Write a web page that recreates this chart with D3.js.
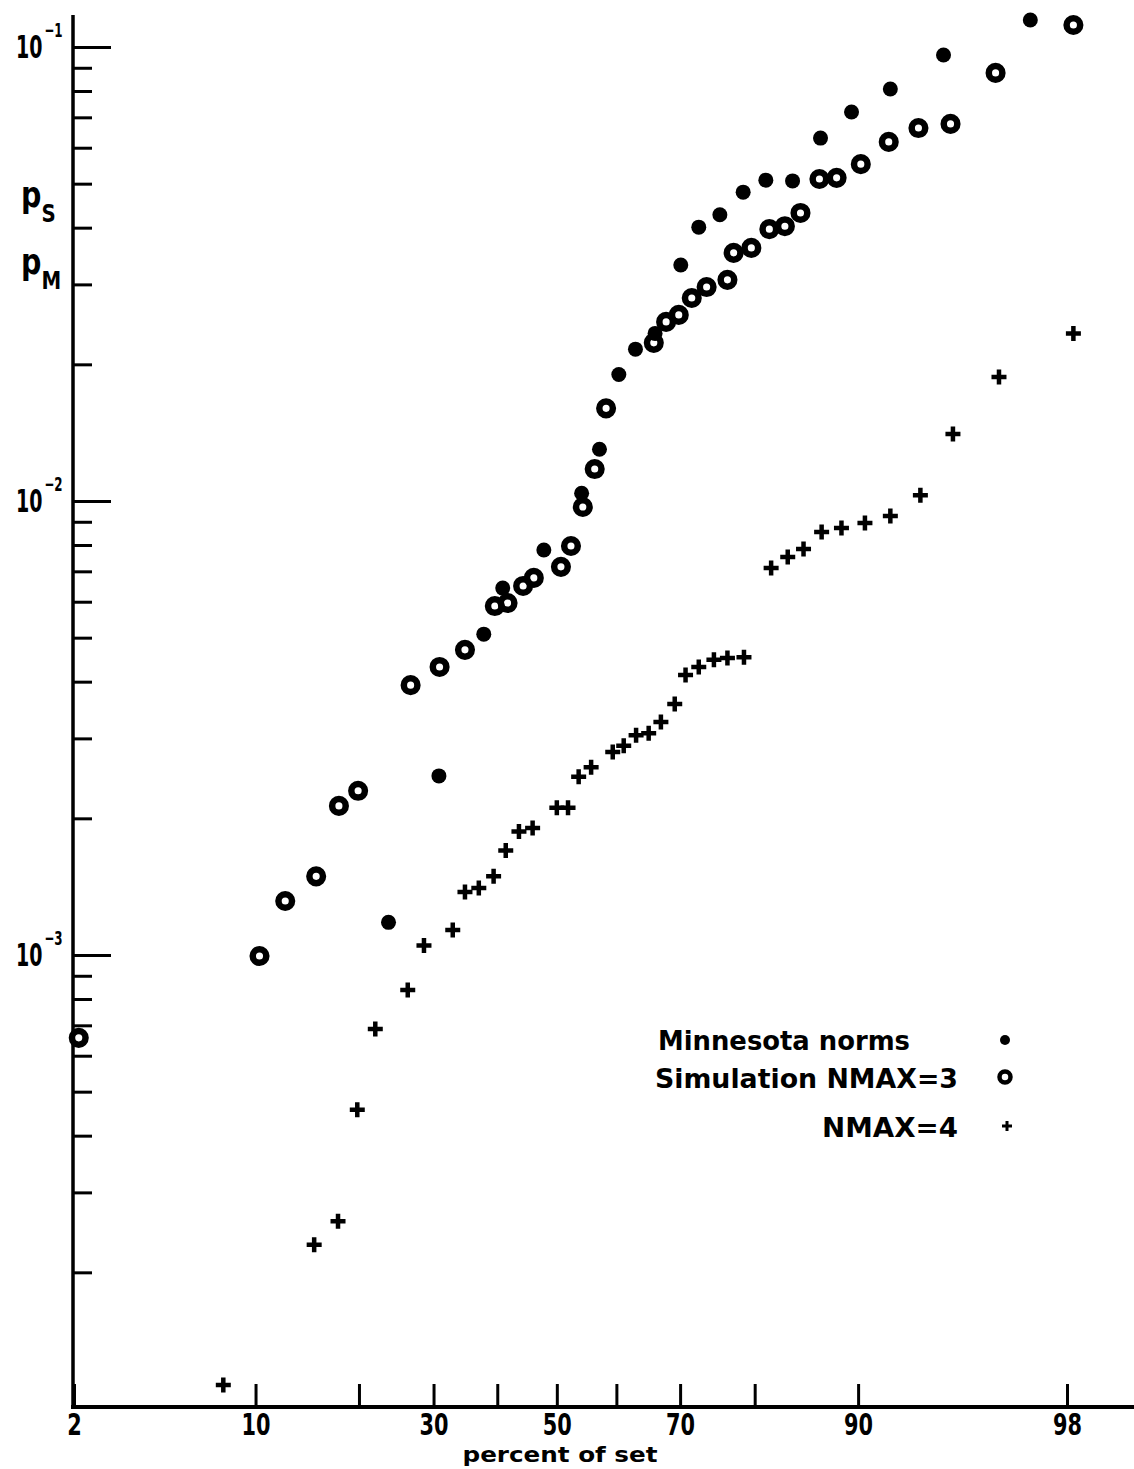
<!DOCTYPE html>
<html>
<head>
<meta charset="utf-8">
<script src="https://cdn.jsdelivr.net/npm/d3@7"></script>
<style>
	body { margin: 0; background: #fff; }
	svg { display: block; }
	.lbl {
		font-family: "Liberation Sans Narrow", "DejaVu Sans Condensed", "Liberation Sans", sans-serif;
		font-weight: bold;
		fill: #000;
	}
	.axis .tick line { stroke: #000; stroke-width: 3; }
	.axis path.domain { display: none; }
</style>
</head>
<body>
<div id="chart"></div>
<script>

// values: percent of set (x) and p (y, log)
var minnesotaPct = [23.7, 30.8, 37.8, 40.9, 47.8, 54.2, 57.2, 60.4, 63.1, 66.2, 70.1, 72.7, 75.6, 78.6, 81.3, 84.2, 86.9, 89.5, 92.2, 95.0, 97.8];
var minnesotaP = [1.18e-3, 2.48e-3, 5.09e-3, 6.43e-3, 7.80e-3, 1.04e-2, 1.30e-2, 1.90e-2, 2.16e-2, 2.34e-2, 3.31e-2, 4.01e-2, 4.27e-2, 4.79e-2, 5.09e-2, 5.07e-2, 6.30e-2, 7.19e-2, 8.08e-2, 9.60e-2, 0.1147];

var nmax3Pct = [2.1, 10.3, 12.4, 15.3, 17.7, 19.9, 26.7, 30.9, 34.8, 39.6, 41.7, 44.3, 46.1, 50.7, 52.4, 54.4, 56.4, 58.3, 66.0, 67.9, 69.8, 71.7, 73.8, 76.6, 77.4, 79.6, 81.7, 83.4, 85.0, 86.8, 88.3, 90.2, 92.1, 93.8, 95.3, 96.9, 98.6];
var nmax3P = [6.57e-4, 9.95e-4, 1.315e-3, 1.49e-3, 2.13e-3, 2.30e-3, 3.93e-3, 4.31e-3, 4.70e-3, 5.87e-3, 5.96e-3, 6.50e-3, 6.77e-3, 7.16e-3, 7.96e-3, 9.70e-3, 1.176e-2, 1.60e-2, 2.23e-2, 2.48e-2, 2.57e-2, 2.80e-2, 2.96e-2, 3.07e-2, 3.52e-2, 3.61e-2, 3.97e-2, 4.03e-2, 4.31e-2, 5.12e-2, 5.15e-2, 5.52e-2, 6.18e-2, 6.63e-2, 6.77e-2, 8.77e-2, 0.1118];

var nmax4Pct = [7.8, 15.1, 17.6, 19.8, 22.0, 26.3, 28.6, 32.9, 34.8, 37.0, 39.4, 41.4, 43.6, 45.9, 50.0, 51.9, 53.7, 55.8, 59.4, 61.2, 63.2, 65.2, 67.1, 69.2, 70.8, 72.7, 74.8, 76.6, 78.7, 81.9, 83.7, 85.3, 87.0, 88.7, 90.5, 92.2, 93.9, 95.4, 97.0, 98.6];
var nmax4P = [1.13e-4, 2.30e-4, 2.59e-4, 4.56e-4, 6.87e-4, 8.37e-4, 1.05e-3, 1.135e-3, 1.377e-3, 1.405e-3, 1.49e-3, 1.70e-3, 1.87e-3, 1.905e-3, 2.11e-3, 2.11e-3, 2.47e-3, 2.59e-3, 2.80e-3, 2.89e-3, 3.05e-3, 3.08e-3, 3.26e-3, 3.57e-3, 4.14e-3, 4.31e-3, 4.47e-3, 4.51e-3, 4.53e-3, 7.12e-3, 7.53e-3, 7.84e-3, 8.54e-3, 8.72e-3, 8.94e-3, 9.27e-3, 1.03e-2, 1.405e-2, 1.875e-2, 2.34e-2];

// the "98" mark in the figure sits at ~98.5 on the probability scale
var xTickPct = [2, 10, 20, 30, 40, 50, 60, 70, 80, 90, 98.5];
var xTickLabels = ["2", "10", "", "30", "", "50", "", "70", "", "90", "98"];
var yDecades = [1e-1, 1e-2, 1e-3];
var yDecadeExp = ["\u22121", "\u22122", "\u22123"];
var legendLabels = ["Minnesota norms", "Simulation NMAX=3", "NMAX=4"];

var W = 1134, H = 1469;

// inverse normal cdf (Acklam), for the probability-paper x axis
function probit(p){
	var a = [-3.969683028665376e+01, 2.209460984245205e+02, -2.759285104469687e+02, 1.383577518672690e+02, -3.066479806614716e+01, 2.506628277459239e+00];
	var b = [-5.447609879822406e+01, 1.615858368580409e+02, -1.556989798598866e+02, 6.680131188771972e+01, -1.328068155288572e+01];
	var c = [-7.784894002430293e-03, -3.223964580411365e-01, -2.400758277161838e+00, -2.549732539343734e+00, 4.374664141464968e+00, 2.938163982698783e+00];
	var d = [7.784695709041462e-03, 3.224671290700398e-01, 2.445134137142996e+00, 3.754408661907416e+00];
	var q, r;
	if (p < 0.02425){
		q = Math.sqrt(-2 * Math.log(p));
		return (((((c[0]*q+c[1])*q+c[2])*q+c[3])*q+c[4])*q+c[5]) / ((((d[0]*q+d[1])*q+d[2])*q+d[3])*q+1);
	}
	if (p > 1 - 0.02425){
		q = Math.sqrt(-2 * Math.log(1 - p));
		return -(((((c[0]*q+c[1])*q+c[2])*q+c[3])*q+c[4])*q+c[5]) / ((((d[0]*q+d[1])*q+d[2])*q+d[3])*q+1);
	}
	q = p - 0.5; r = q * q;
	return (((((a[0]*r+a[1])*r+a[2])*r+a[3])*r+a[4])*r+a[5])*q / (((((b[0]*r+b[1])*r+b[2])*r+b[3])*r+b[4])*r+1);
}

var xs = d3.scaleLinear().domain([probit(0.02), probit(0.985)]).range([74, 1067]);
var ys = d3.scaleLog().domain([1e-4, 1e-1]).range([1409, 47]);
function X(pct){ return xs(probit(pct / 100)); }

var svg = d3.select('#chart').append('svg').attr('width', W).attr('height', H);
svg.append('rect').attr('width', W).attr('height', H).attr('fill', '#fff');

// y axis: decade ticks long, the rest short
var minorY = [];
[1e-4, 1e-3, 1e-2].forEach(function(dec){
	for (var k = 2; k <= 9; k++) minorY.push(k * dec);
});
svg.append('g').attr('class', 'axis').attr('transform', 'translate(73,0)')
	.call(d3.axisRight(ys).tickValues(minorY).tickSize(19).tickSizeOuter(0).tickFormat(''));
svg.append('g').attr('class', 'axis').attr('transform', 'translate(73,0)')
	.call(d3.axisRight(ys).tickValues(yDecades).tickSize(38).tickSizeOuter(0).tickFormat(''));

svg.append('line').attr('x1', 73).attr('x2', 73).attr('y1', 15).attr('y2', ys(1e-4))
	.attr('stroke', '#000').attr('stroke-width', 3.5);

// decade labels 10^-k; squeezed sideways for the condensed look of the original
yDecades.forEach(function(v, i){
	var t = svg.append('text').attr('class', 'lbl')
		.attr('transform', 'translate(16,' + (ys(v) + 11) + ') scale(0.66,1)')
		.style('font-size', '32px');
	t.append('tspan').text('10');
	t.append('tspan').attr('dx', 3).attr('dy', -21).style('font-size', '20px').text(yDecadeExp[i]);
});

// p_S and p_M marks on the axis
function pLabel(y, sub){
	var t = svg.append('text').attr('class', 'lbl')
		.attr('transform', 'translate(21,' + y + ') scale(0.88,1)')
		.style('font-size', '36px');
	t.append('tspan').text('p');
	t.append('tspan').attr('dy', 15).style('font-size', '25px').text(sub);
}
pLabel(207, 'S');
pLabel(274, 'M');

// x axis (probability scale)
var xAxis = d3.axisBottom(xs)
	.tickValues(xTickPct.map(function(p){ return probit(p / 100); }))
	.tickSize(-23).tickSizeOuter(0).tickPadding(7)
	.tickFormat(function(d, i){ return xTickLabels[i]; });
var gx = svg.append('g').attr('class', 'axis').attr('transform', 'translate(0,1407)').call(xAxis);
gx.selectAll('.tick text').attr('class', 'lbl').style('font-size', '30px')
	.attr('textLength', function(d, i){ return 14.5 * xTickLabels[i].length; })
	.attr('lengthAdjust', 'spacingAndGlyphs');

svg.append('line').attr('x1', 71).attr('x2', W).attr('y1', 1407).attr('y2', 1407)
	.attr('stroke', '#000').attr('stroke-width', 4);

svg.append('text').attr('class', 'lbl').attr('x', 560).attr('y', 1462)
	.attr('text-anchor', 'middle').style('font-size', '21px')
	.attr('textLength', 195).attr('lengthAdjust', 'spacingAndGlyphs')
	.text('percent of set');

// markers
function plusPath(s){ return 'M' + (-s) + ',0H' + s + 'M0,' + (-s) + 'V' + s; }

svg.append('g').selectAll('path').data(d3.range(nmax4Pct.length)).enter().append('path')
	.attr('transform', function(i){ return 'translate(' + X(nmax4Pct[i]) + ',' + ys(nmax4P[i]) + ')'; })
	.attr('d', plusPath(7.5))
	.attr('stroke', '#000').attr('stroke-width', 4.5);

svg.append('g').selectAll('circle').data(d3.range(minnesotaPct.length)).enter().append('circle')
	.attr('cx', function(i){ return X(minnesotaPct[i]); })
	.attr('cy', function(i){ return ys(minnesotaP[i]); })
	.attr('r', 7.5).attr('fill', '#000');

svg.append('g').selectAll('circle').data(d3.range(nmax3Pct.length)).enter().append('circle')
	.attr('cx', function(i){ return X(nmax3Pct[i]); })
	.attr('cy', function(i){ return ys(nmax3P[i]); })
	.attr('r', 6.8).attr('fill', 'none').attr('stroke', '#000').attr('stroke-width', 6.5);

// legend
var leg = [
	{x: 658, y: 1050, w: 252, mx: 1005, my: 1040},
	{x: 655, y: 1088, w: 303, mx: 1005, my: 1077},
	{x: 822, y: 1137, w: 136, mx: 1007, my: 1126}
];
leg.forEach(function(l, i){
	svg.append('text').attr('class', 'lbl').attr('x', l.x).attr('y', l.y)
		.style('font-size', '27px')
		.attr('textLength', l.w).attr('lengthAdjust', 'spacingAndGlyphs')
		.text(legendLabels[i]);
});
svg.append('circle').attr('cx', leg[0].mx).attr('cy', leg[0].my).attr('r', 5).attr('fill', '#000');
svg.append('circle').attr('cx', leg[1].mx).attr('cy', leg[1].my).attr('r', 5.5)
	.attr('fill', 'none').attr('stroke', '#000').attr('stroke-width', 4.5);
svg.append('path').attr('transform', 'translate(' + leg[2].mx + ',' + leg[2].my + ')')
	.attr('d', plusPath(5)).attr('stroke', '#000').attr('stroke-width', 3);

</script>
</body>
</html>
